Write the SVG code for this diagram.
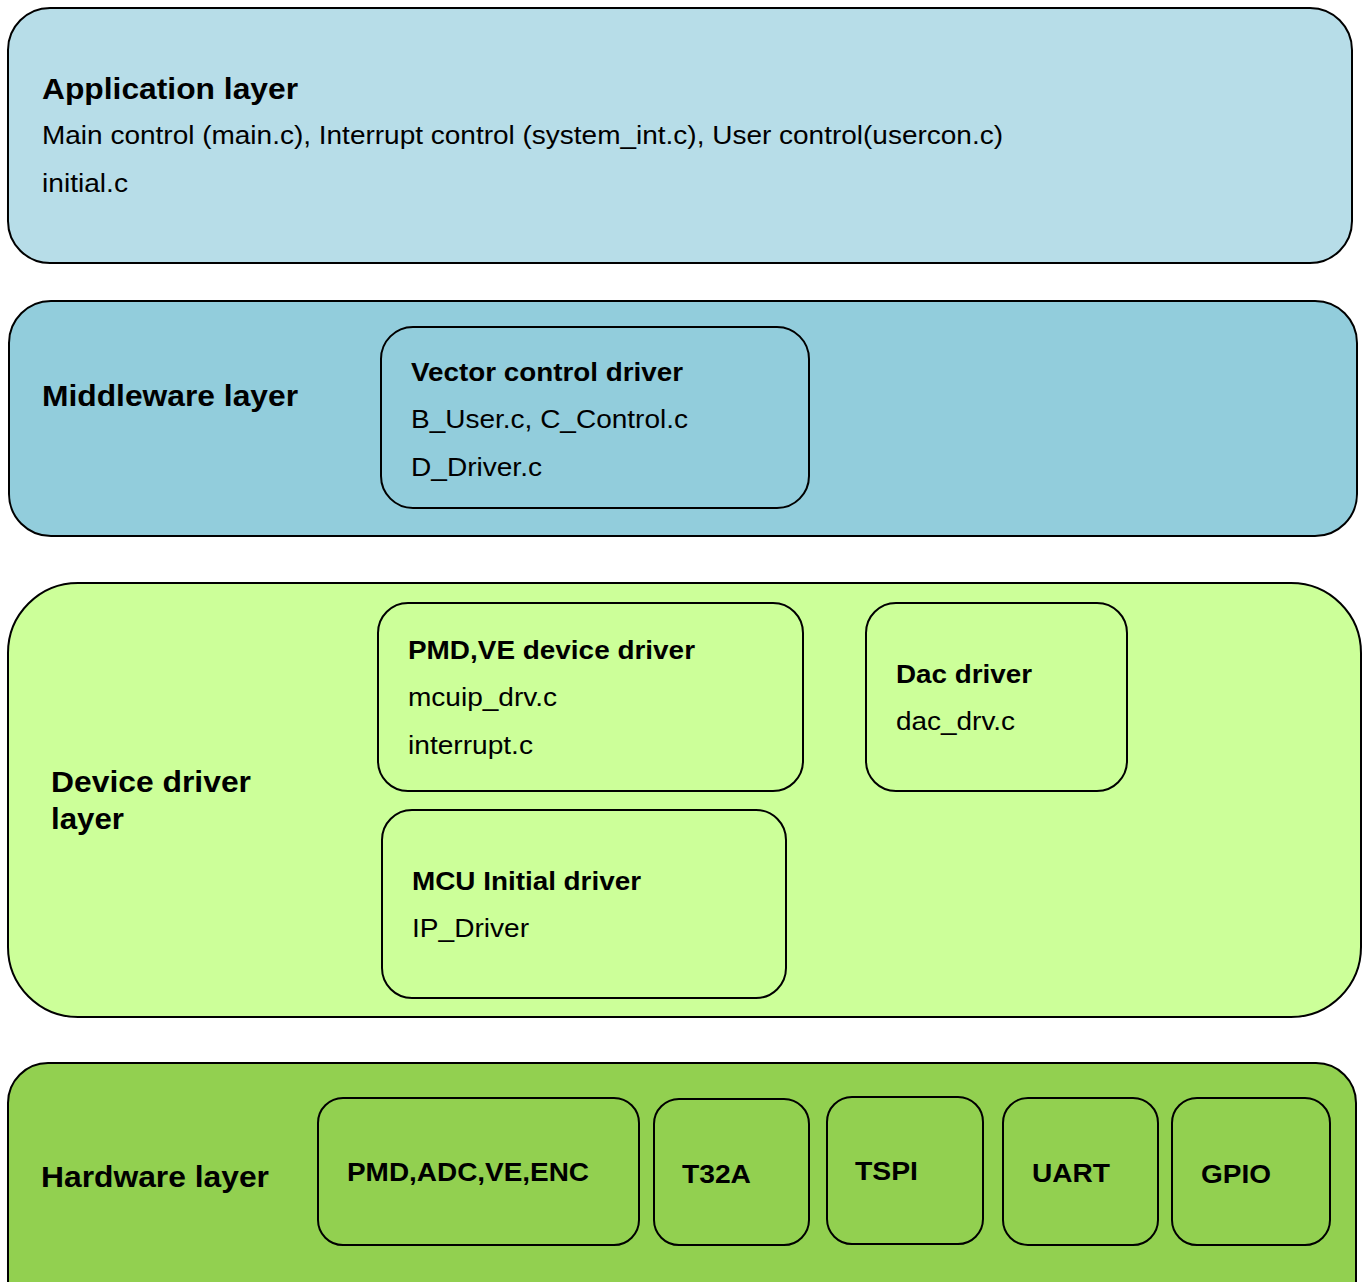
<svg xmlns="http://www.w3.org/2000/svg" width="1367" height="1282" viewBox="0 0 1367 1282">
<style>
.layer{stroke:#000;stroke-width:2}
.box{stroke:#000;stroke-width:2}
text{font-family:"Liberation Sans",Arial,sans-serif;fill:#000}
.h{font-weight:bold;font-size:29px}
.b{font-weight:bold;font-size:25px}
.r{font-size:25px}
</style>
<rect width="1367" height="1282" fill="#fff"/>
<g id="app-layer">
<rect class="layer" x="8" y="8" width="1344" height="255" rx="42" fill="#B7DDE8"/>
<text class="h" x="42" y="99" textLength="256" lengthAdjust="spacingAndGlyphs">Application layer</text>
<text class="r" x="42" y="144" textLength="961" lengthAdjust="spacingAndGlyphs">Main control (main.c), Interrupt control (system_int.c), User control(usercon.c)</text>
<text class="r" x="42" y="192" textLength="86" lengthAdjust="spacingAndGlyphs">initial.c</text>
</g>
<g id="middleware-layer">
<rect class="layer" x="9" y="301" width="1348" height="235" rx="42" fill="#92CDDC"/>
<text class="h" x="42" y="406" textLength="256" lengthAdjust="spacingAndGlyphs">Middleware layer</text>
</g>
<g id="vector-control-driver">
<rect class="box" x="381" y="327" width="428" height="181" rx="32" fill="#92CDDC"/>
<text class="b" x="411" y="381" textLength="272" lengthAdjust="spacingAndGlyphs">Vector control driver</text>
<text class="r" x="411" y="428" textLength="277" lengthAdjust="spacingAndGlyphs">B_User.c, C_Control.c</text>
<text class="r" x="411" y="476" textLength="131" lengthAdjust="spacingAndGlyphs">D_Driver.c</text>
</g>
<g id="device-driver-layer">
<rect class="layer" x="8" y="583" width="1353" height="434" rx="70" fill="#CCFF99"/>
<text class="h" x="51" y="792" textLength="200" lengthAdjust="spacingAndGlyphs">Device driver</text>
<text class="h" x="51" y="829" textLength="73" lengthAdjust="spacingAndGlyphs">layer</text>
</g>
<g id="pmd-ve-device-driver">
<rect class="box" x="378" y="603" width="425" height="188" rx="30" fill="#CCFF99"/>
<text class="b" x="408" y="659" textLength="287" lengthAdjust="spacingAndGlyphs">PMD,VE device driver</text>
<text class="r" x="408" y="706" textLength="149" lengthAdjust="spacingAndGlyphs">mcuip_drv.c</text>
<text class="r" x="408" y="754" textLength="125" lengthAdjust="spacingAndGlyphs">interrupt.c</text>
</g>
<g id="dac-driver">
<rect class="box" x="866" y="603" width="261" height="188" rx="30" fill="#CCFF99"/>
<text class="b" x="896" y="683" textLength="136" lengthAdjust="spacingAndGlyphs">Dac driver</text>
<text class="r" x="896" y="730" textLength="119" lengthAdjust="spacingAndGlyphs">dac_drv.c</text>
</g>
<g id="mcu-initial-driver">
<rect class="box" x="382" y="810" width="404" height="188" rx="30" fill="#CCFF99"/>
<text class="b" x="412" y="890" textLength="229" lengthAdjust="spacingAndGlyphs">MCU Initial driver</text>
<text class="r" x="412" y="937" textLength="117" lengthAdjust="spacingAndGlyphs">IP_Driver</text>
</g>
<g id="hardware-layer">
<rect class="layer" x="8" y="1063" width="1348" height="260" rx="40" fill="#92D050"/>
<text class="h" x="41" y="1187" textLength="228" lengthAdjust="spacingAndGlyphs">Hardware layer</text>
</g>
<g id="hw-pmd">
<rect class="box" x="318" y="1098" width="321" height="147" rx="25" fill="#92D050"/>
<text class="b" x="347" y="1181" textLength="242" lengthAdjust="spacingAndGlyphs">PMD,ADC,VE,ENC</text>
</g>
<g id="hw-t32a">
<rect class="box" x="654" y="1099" width="155" height="146" rx="25" fill="#92D050"/>
<text class="b" x="682" y="1183" textLength="69" lengthAdjust="spacingAndGlyphs">T32A</text>
</g>
<g id="hw-tspi">
<rect class="box" x="827" y="1097" width="156" height="147" rx="25" fill="#92D050"/>
<text class="b" x="855" y="1180" textLength="63" lengthAdjust="spacingAndGlyphs">TSPI</text>
</g>
<g id="hw-uart">
<rect class="box" x="1003" y="1098" width="155" height="147" rx="25" fill="#92D050"/>
<text class="b" x="1032" y="1182" textLength="78" lengthAdjust="spacingAndGlyphs">UART</text>
</g>
<g id="hw-gpio">
<rect class="box" x="1172" y="1098" width="158" height="147" rx="25" fill="#92D050"/>
<text class="b" x="1201" y="1183" textLength="70" lengthAdjust="spacingAndGlyphs">GPIO</text>
</g>
<g id="connectors"/>
</svg>
